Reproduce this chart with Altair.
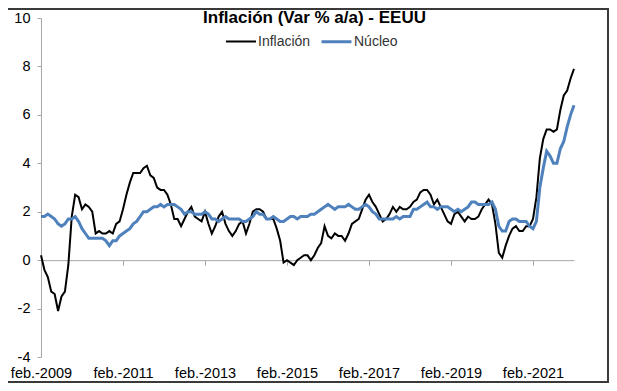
import altair as alt
import pandas as pd

# Monthly data, feb.-2009 .. feb.-2022 (Var % a/a)
inicio_anio = 2009

inflacion = [
    0.2, -0.4, -0.7, -1.3, -1.4, -2.1, -1.5, -1.3, -0.2, 1.8, 2.7,
    2.6, 2.1, 2.3, 2.2, 2.0, 1.1, 1.2, 1.1, 1.1, 1.2, 1.1, 1.5,
    1.6, 2.1, 2.7, 3.2, 3.6, 3.6, 3.6, 3.8, 3.9, 3.5, 3.4, 3.0,
    2.9, 2.9, 2.7, 2.3, 1.7, 1.7, 1.4, 1.7, 2.0, 2.2, 1.8, 1.7,
    1.6, 2.0, 1.5, 1.1, 1.4, 1.8, 2.0, 1.5, 1.2, 1.0, 1.2, 1.5,
    1.6, 1.1, 1.5, 2.0, 2.1, 2.1, 2.0, 1.7, 1.7, 1.7, 1.3, 0.8,
    -0.1, 0.0, -0.1, -0.2, 0.0, 0.1, 0.2, 0.2, 0.0, 0.2, 0.5, 0.7,
    1.4, 1.0, 0.9, 1.1, 1.0, 1.0, 0.8, 1.1, 1.5, 1.6, 1.7, 2.1,
    2.5, 2.7, 2.4, 2.2, 1.9, 1.6, 1.7, 1.9, 2.2, 2.0, 2.2, 2.1,
    2.1, 2.2, 2.4, 2.5, 2.8, 2.9, 2.9, 2.7, 2.3, 2.5, 2.2, 1.9,
    1.6, 1.5, 1.9, 2.0, 1.8, 1.6, 1.8, 1.7, 1.7, 1.8, 2.1, 2.3,
    2.5, 2.3, 1.5, 0.3, 0.1, 0.6, 1.0, 1.3, 1.4, 1.2, 1.2, 1.4,
    1.4, 1.7, 2.6, 4.2, 5.0, 5.4, 5.4, 5.3, 5.4, 6.2, 6.8, 7.0,
    7.5, 7.9,
]

nucleo = [
    1.8, 1.8, 1.9, 1.8, 1.7, 1.5, 1.4, 1.5, 1.7, 1.7, 1.8,
    1.6, 1.3, 1.1, 0.9, 0.9, 0.9, 0.9, 0.9, 0.8, 0.6, 0.8, 0.8,
    1.0, 1.1, 1.2, 1.3, 1.5, 1.6, 1.8, 2.0, 2.0, 2.1, 2.2, 2.2,
    2.3, 2.2, 2.3, 2.3, 2.3, 2.2, 2.1, 1.9, 2.0, 2.0, 1.9, 1.9,
    1.9, 2.0, 1.9, 1.7, 1.7, 1.6, 1.7, 1.8, 1.7, 1.7, 1.7, 1.7,
    1.6, 1.6, 1.7, 1.8, 2.0, 1.9, 1.9, 1.7, 1.7, 1.8, 1.7, 1.6,
    1.6, 1.7, 1.8, 1.8, 1.7, 1.8, 1.8, 1.8, 1.9, 1.9, 2.0, 2.1,
    2.2, 2.3, 2.2, 2.1, 2.2, 2.2, 2.2, 2.3, 2.2, 2.1, 2.1, 2.2,
    2.3, 2.2, 2.0, 1.9, 1.7, 1.7, 1.7, 1.7, 1.7, 1.8, 1.7, 1.8,
    1.8, 1.8, 2.1, 2.1, 2.2, 2.3, 2.4, 2.2, 2.2, 2.1, 2.2, 2.2,
    2.2, 2.1, 2.0, 2.1, 2.0, 2.1, 2.2, 2.4, 2.4, 2.3, 2.3, 2.3,
    2.3, 2.4, 2.1, 1.4, 1.2, 1.2, 1.6, 1.7, 1.7, 1.6, 1.6, 1.6,
    1.4, 1.3, 1.6, 3.0, 3.8, 4.5, 4.3, 4.0, 4.0, 4.6, 4.9, 5.5,
    6.0, 6.4,
]

series = ["Inflación", "Núcleo"]
colores = ["#000000", "#4F81BD"]
grosores = [2, 3]
y_ticks = [-4, -2, 0, 2, 4, 6, 8, 10]
x_ticks = [0, 24, 48, 72, 96, 120, 144]  # feb.-2009 ... feb.-2021

rows = []
for i, (a, b) in enumerate(zip(inflacion, nucleo)):
    rows.append({"i": i, "serie": series[0], "valor": a})
    rows.append({"i": i, "serie": series[1], "valor": b})
df = pd.DataFrame(rows)

W, H = 533, 339
n = len(inflacion) - 1
y_min, y_max = -4, 10
off0 = -H * (0 - y_min) / (y_max - y_min)

lines = alt.Chart(df).mark_line(clip=False).encode(
    x=alt.X(
        "i:Q",
        scale=alt.Scale(domain=[0, n], nice=False, zero=False),
        axis=alt.Axis(
            values=x_ticks,
            labelExpr=f"'feb.-' + ({inicio_anio} + datum.value / 12)",
            title=None,
            grid=False,
            domainColor="#A6A6A6",
            tickColor="#A6A6A6",
            tickSize=5,
            offset=off0,
            labelPadding=101,
            labelFlush=False,
            labelOverlap=False,
            labelBound=False,
            labelFontSize=14.5,
            labelColor="#000000",
        ),
    ),
    y=alt.Y(
        "valor:Q",
        scale=alt.Scale(domain=[y_min, y_max], nice=False),
        axis=alt.Axis(
            values=y_ticks,
            labelExpr="'' + datum.value",
            title=None,
            grid=False,
            domainColor="#A6A6A6",
            tickColor="#A6A6A6",
            tickSize=4,
            labelPadding=7,
            labelFontSize=14.5,
            labelColor="#000000",
        ),
    ),
    color=alt.Color(
        "serie:N",
        scale=alt.Scale(domain=series, range=colores),
        legend=alt.Legend(
            title=None,
            orient="none",
            legendX=184,
            legendY=7,
            direction="horizontal",
            symbolType="stroke",
            symbolSize=900,
            symbolStrokeWidth=2.5,
            labelFontSize=14,
            labelColor="#333333",
            labelOffset=1,
            columnPadding=4,
        ),
    ),
    strokeWidth=alt.StrokeWidth(
        "serie:N", scale=alt.Scale(domain=series, range=grosores), legend=None
    ),
)

frame_color = "#3A3A3A"
top_rule = alt.Chart(alt.Data(values=[{}])).mark_rule(
    color=frame_color, strokeWidth=2, clip=False
).encode(x=alt.value(-33), x2=alt.value(W + 35), y=alt.value(-9))
right_rule = alt.Chart(alt.Data(values=[{}])).mark_rule(
    color=frame_color, strokeWidth=2, clip=False
).encode(x=alt.value(W + 34), y=alt.value(-9), y2=alt.value(H + 25))
bottom_rule = alt.Chart(alt.Data(values=[{}])).mark_rule(
    color=frame_color, strokeWidth=2, clip=False
).encode(x=alt.value(-33), x2=alt.value(W + 35), y=alt.value(H + 25))

chart = (
    alt.layer(lines, top_rule, right_rule, bottom_rule)
    .properties(
        width=W,
        height=H,
        title=alt.Title(
            "Inflación (Var % a/a) - EEUU",
            fontSize=17,
            fontWeight="bold",
            anchor="middle",
            frame="group",
            baseline="alphabetic",
            offset=-32,
            dx=7,
            color="#000000",
        ),
        autosize=alt.AutoSizeParams(type="none"),
        padding={"left": 33, "top": 10, "right": 35, "bottom": 26},
    )
    .configure(font="Liberation Sans")
    .configure_view(stroke=None)
)

chart.save("out.html", embed_options={"renderer": "svg", "actions": False})
